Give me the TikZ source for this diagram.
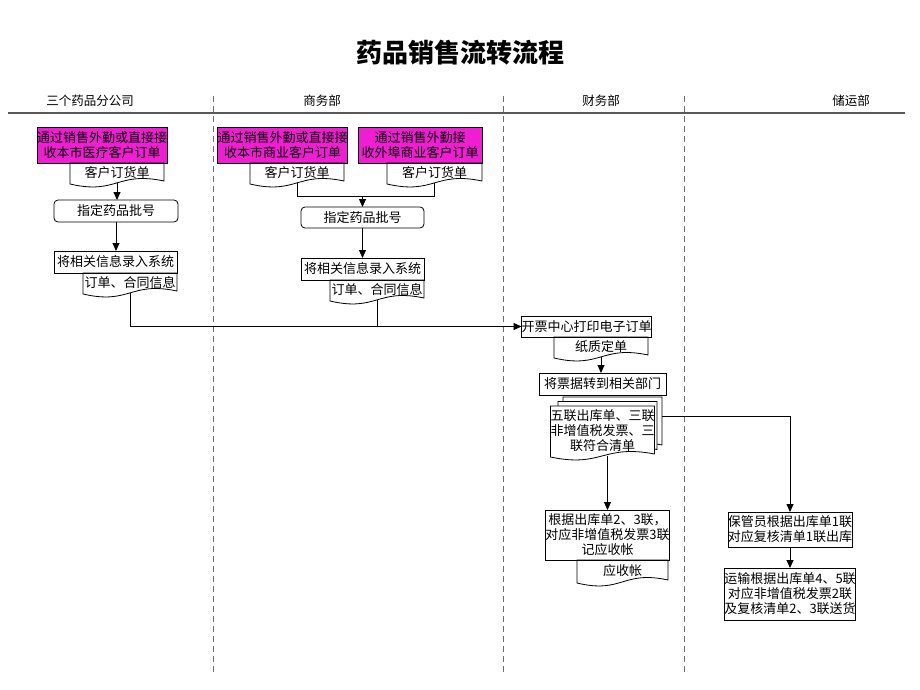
\documentclass[tikz,border=0pt]{standalone}
\usepackage{fontspec}
\newfontfamily\cjk{Noto Sans CJK SC}
\usetikzlibrary{arrows.meta,calc,backgrounds}
\definecolor{magbox}{RGB}{240,30,210}
\definecolor{lanegray}{RGB}{110,110,110}
\newcommand\docshape[2][]{%
  \draw[docline,#1] (#2.north west) -- (#2.north east) -- ([yshift=2pt]#2.south east)
    .. controls ($(#2.south)+(0,-12)$) and ($(#2.south)+(0,12)$) .. ([yshift=-1pt]#2.south west) -- cycle;}
\tikzset{
  base/.style={font=\cjk\fontsize{13}{15}\selectfont, align=center, inner sep=0pt, outer sep=0pt},
  box/.style={base, draw, rectangle, line width=0.8pt},
  rbox/.style={box, rounded corners=4pt},
  mbox/.style={box, fill=magbox},
  docnode/.style={base},
  docline/.style={line width=0.8pt},
  conn/.style={line width=0.9pt, black},
  arr/.style={conn, -{Triangle[length=8pt,width=7pt]}},
  lane/.style={lanegray, line width=0.8pt, dash pattern=on 6pt off 4pt},
  hdr/.style={font=\cjk\fontsize{12.5}{15}\selectfont, inner sep=0pt}
}
\begin{document}
\begin{tikzpicture}[x=1pt,y=-1pt]
\useasboundingbox (0,0) rectangle (920,690);
% title
\node[font=\cjk\bfseries\fontsize{26}{29}\selectfont, inner sep=0pt] (title) at (460,53) {药品销售流转流程};
% headers
\node[hdr] (h1) at (90,101) {三个药品分公司};
\node[hdr] (h2) at (322,101) {商务部};
\node[hdr] (h3) at (601,101) {财务部};
\node[hdr] (h4) at (851,101) {储运部};
\draw[black!65, line width=1.6pt] (8,113) -- (905,113);
\draw[lane] (213,96) -- (213,675);
\draw[lane] (503,96) -- (503,675);
\draw[lane] (684,96) -- (684,675);

% column 1
\node[mbox, minimum width=124pt, minimum height=36pt] (m1) at (102,145) {通过销售外勤或直接接\\收本市医疗客户订单};
\node[docnode, minimum width=94pt, minimum height=20pt] (d1) at (117,173) {客户订货单};
\docshape{d1}
\node[rbox, minimum width=124pt, minimum height=22pt] (p1) at (116,211) {指定药品批号};
\node[box, minimum width=123pt, minimum height=22pt] (r1) at (115.5,262) {将相关信息录入系统};
\node[docnode, minimum width=94pt, minimum height=20pt] (o1) at (130,283) {订单、合同信息};
\docshape{o1}

% column 2
\node[mbox, minimum width=125pt, minimum height=36pt] (m2) at (282.5,145) {通过销售外勤或直接接\\收本市商业客户订单};
\node[docnode, minimum width=94pt, minimum height=20pt] (d2) at (297,173) {客户订货单};
\docshape{d2}
\node[mbox, minimum width=124pt, minimum height=36pt] (m3) at (420,145) {通过销售外勤接\\收外埠商业客户订单};
\node[docnode, minimum width=95pt, minimum height=20pt] (d3) at (434.5,173) {客户订货单};
\docshape{d3}
\coordinate (jn2) at (362.5,196);
\node[rbox, minimum width=123pt, minimum height=21pt] (p2) at (362.5,217.5) {指定药品批号};
\node[box, minimum width=123pt, minimum height=22pt] (r2) at (362.5,269) {将相关信息录入系统};
\node[docnode, minimum width=94pt, minimum height=20pt] (o2) at (377,290) {订单、合同信息};
\docshape{o2}

% column 3
\node[box, minimum width=123pt, minimum height=21pt] (k1) at (586.5,326.5) {开票中心打印电子订单};
\node[docnode, minimum width=94pt, minimum height=20pt] (z1) at (601,347) {纸质定单};
\docshape{z1}
\node[box, minimum width=127pt, minimum height=22pt] (j1) at (602.5,384) {将票据转到相关部门};
\node[docnode, minimum width=99pt, minimum height=50pt] (b3) at (612.5,422) {};
\node[docnode, minimum width=99pt, minimum height=50pt] (b2) at (607.5,426.5) {};
\node[docnode, minimum width=99pt, minimum height=50pt] (f1) at (602.5,431) {五联出库单、三联\\非增值税发票、三\\联符合清单};
\begin{scope}[on background layer]
\docshape[fill=white]{b3}
\docshape[fill=white]{b2}
\docshape[fill=white]{f1}
\end{scope}
\node[box, minimum width=121pt, minimum height=50pt] (a1) at (607.5,535) {根据出库单2、3联，\\对应非增值税发票3联\\记应收帐};
\node[docnode, minimum width=91pt, minimum height=22pt] (a2) at (622.5,571) {应收帐};
\docshape{a2}

% column 4
\node[box, minimum width=124pt, minimum height=35pt] (s1) at (790,529.5) {保管员根据出库单1联\\对应复核清单1联出库};
\node[box, minimum width=124pt, minimum height=52pt] (s2) at (790,594) {运输根据出库单4、5联\\对应非增值税发票2联\\及复核清单2、3联送货};

% connectors
\draw[arr] (d1.south) -- (d1.south |- p1.north);
\draw[arr] (p1.south) -- (p1.south |- r1.north);
\draw[conn] (o2.south) -- (o2.south |- k1.west);
\draw[arr] (o1.south) |- (k1.west);
\draw[conn] (d2.south) -- (d2.south |- jn2) -- (d3.south |- jn2) -- (d3.south);
\draw[arr] (jn2) -- (p2.north);
\draw[arr] (p2.south) -- (r2.north);
\draw[arr] (z1.south) -- (z1.south |- j1.north);
\draw[arr] (a1.north |- f1.south) -- (a1.north);
\draw[arr] ([yshift=6pt]b3.east) -| (s1.north);
\draw[arr] (s1.south) -- (s2.north);
\end{tikzpicture}
\end{document}
